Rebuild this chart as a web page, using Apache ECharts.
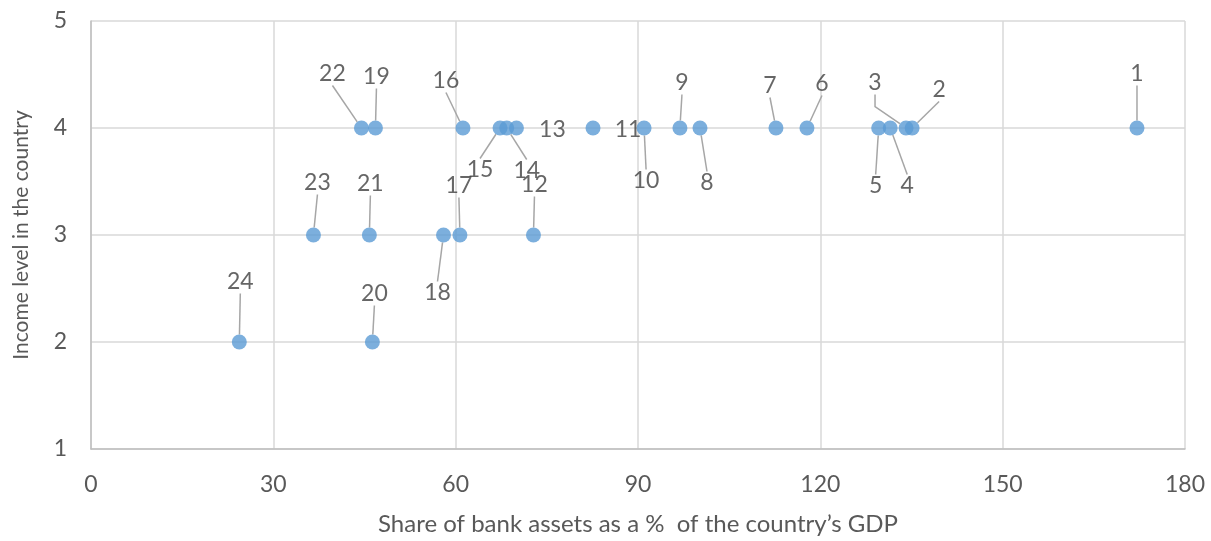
<!DOCTYPE html>
<html>
<head>
<meta charset="utf-8">
<script src="https://cdn.jsdelivr.net/npm/echarts@6/dist/echarts.min.js"></script>
<style>
  html, body { margin: 0; padding: 0; background: #fff; }
  #chart { width: 1211px; height: 541px; }
</style>
</head>
<body>
<div id="chart"></div>
<script>
// country number, bank assets (% of GDP), income level
const countryIds = [1, 2, 3, 4, 5, 6, 7, 8, 9, 10, 11, 12, 13, 14, 15, 16, 17, 18, 19, 20, 21, 22, 23, 24]
const bankAssets = [172.1, 135.1, 134.1, 131.5, 129.6, 117.8, 112.7, 100.2, 96.9, 91.0, 82.6, 72.8,
  70.0, 68.4, 67.3, 61.2, 60.7, 58.0, 46.8, 46.3, 45.8, 44.5, 36.6, 24.4]
const incomeLevel = [4, 4, 4, 4, 4, 4, 4, 4, 4, 4, 4, 3, 4, 4, 4, 4, 3, 3, 4, 2, 3, 4, 3, 2]
const xTicks = [0, 30, 60, 90, 120, 150, 180]

// where each data label sits relative to its point (px)
const labelShift = [[0, -54], [27, -38], [-31, -45], [17, 58], [-3, 58], [15, -44], [-6, -42], [7, 55],
  [2, -45], [2, 53], [35, 2], [1, -50], [36, 2], [20, 43], [-20, 42], [-17, -47], [-1, -49], [-6, 58],
  [1, -51], [2, -48], [1, -51], [-29, -54], [4, -52], [1, -60]]
const noLeader = [11, 13] // labels sitting right next to the dot
const elbowLeader = [3]

const chart = echarts.init(document.getElementById('chart'))

const seriesData = countryIds.map((id, i) => {
  const item = { value: [bankAssets[i], incomeLevel[i]], name: String(id) }
  if (noLeader.includes(id)) item.labelLine = { show: false }
  if (elbowLeader.includes(id)) item.labelLine = { show: true, length2: 12 }
  return item
})

const option = {
  animation: false,
  textStyle: { fontFamily: 'Lato' },
  grid: { left: 91, right: 26, top: 21, bottom: 89 },
  xAxis: {
    type: 'value',
    min: xTicks[0],
    max: xTicks[xTicks.length - 1],
    interval: 30,
    name: 'Share of bank assets as a %  of the country\u2019s GDP',
    nameLocation: 'middle',
    nameGap: 63,
    nameTextStyle: { fontSize: 24, color: '#595959', fontFamily: 'Lato' },
    axisLine: { show: true, lineStyle: { color: '#bfbfbf', width: 1.5 } },
    axisTick: { show: false },
    axisLabel: { fontSize: 23, color: '#595959', margin: 24 },
    splitLine: { show: true, lineStyle: { color: '#d9d9d9', width: 1.5 } },
  },
  yAxis: {
    type: 'value',
    min: 1,
    max: 5,
    interval: 1,
    name: 'Income level in the country',
    nameLocation: 'middle',
    nameGap: 59,
    nameTextStyle: { fontSize: 21, color: '#595959', fontFamily: 'Lato' },
    axisLine: { show: true, lineStyle: { color: '#bfbfbf', width: 1.5 } },
    axisTick: { show: false },
    axisLabel: { fontSize: 23, color: '#595959', margin: 24 },
    splitLine: { show: true, lineStyle: { color: '#d9d9d9', width: 1.5 } },
  },
  series: [
    {
      type: 'scatter',
      symbolSize: 15,
      itemStyle: { color: '#5b9bd5' },
      data: seriesData,
      label: {
        show: true,
        position: 'inside',
        formatter: (p) => p.name,
        fontSize: 23,
        color: '#404040',
        fontFamily: 'Lato',
      },
      labelLine: {
        show: true,
        lineStyle: { color: '#a6a6a6', width: 1.5 },
      },
      labelLayout: (params) => {
        const s = labelShift[params.dataIndex]
        return { dx: s[0], dy: s[1] }
      },
    },
  ],
}

chart.setOption(option)
</script>
</body>
</html>
